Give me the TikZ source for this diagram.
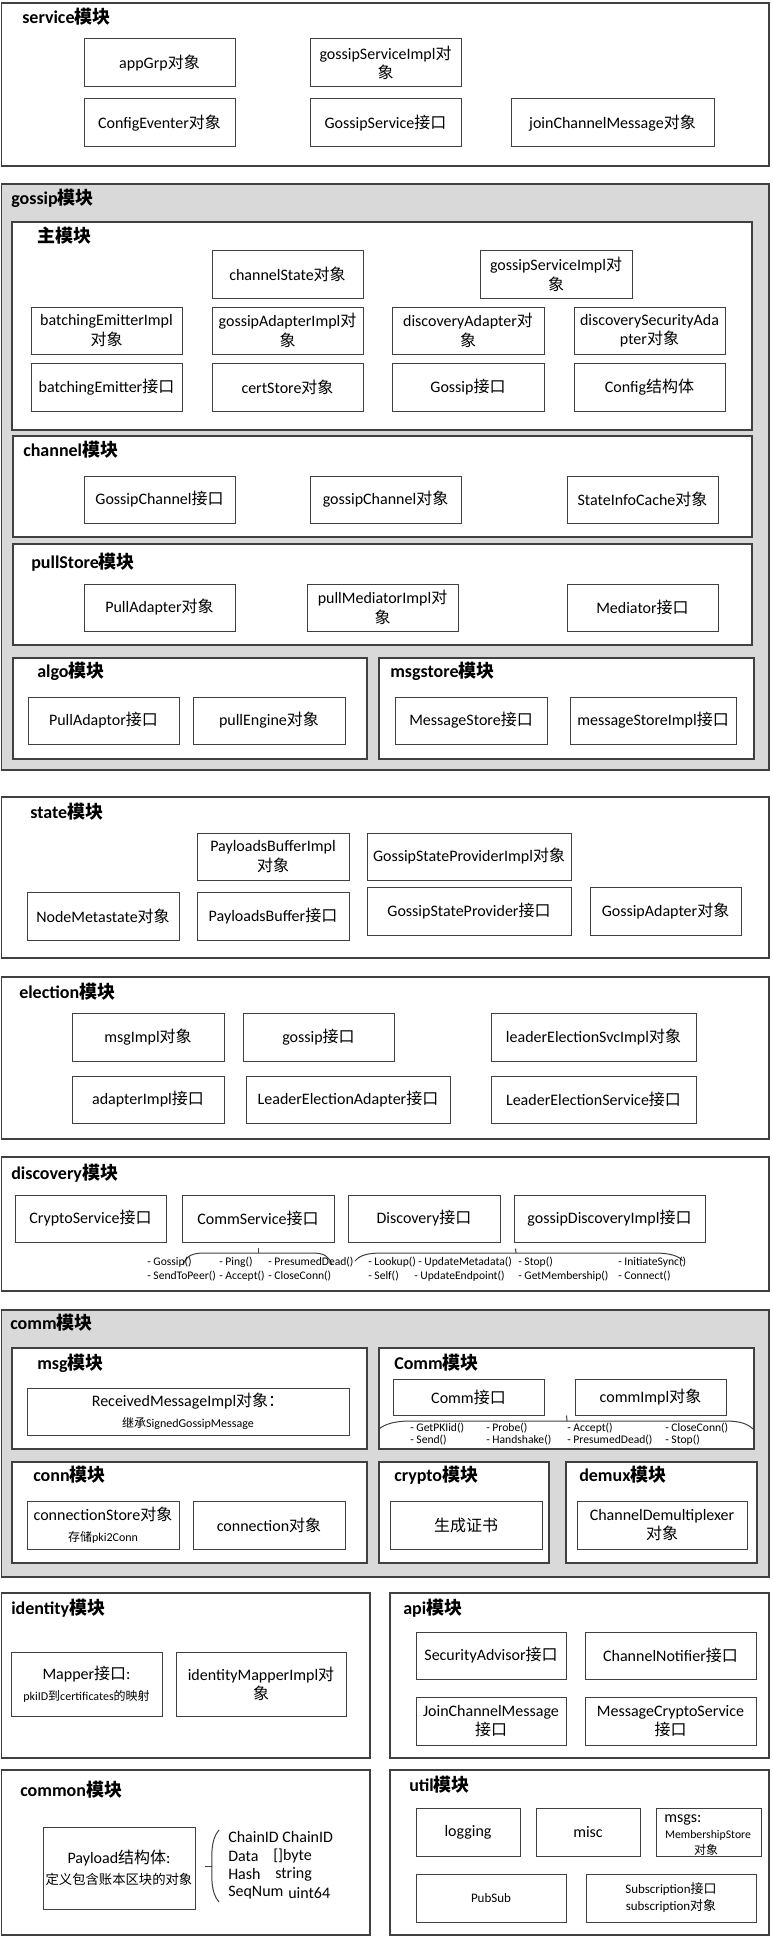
\documentclass[tikz,border=0pt]{standalone}
\usepackage{fontspec}
\setmainfont{Carlito}
\newfontfamily\cjk{Noto Sans CJK SC}
\newcommand\zh[1]{{\cjk #1}}
\definecolor{modgray}{HTML}{D9D9D9}
\definecolor{edge}{HTML}{404040}

\tikzset{
  frame/.style={draw=edge, line width=0.9pt, fill=white, inner sep=0pt},
  grayframe/.style={frame, fill=modgray},
  objbox/.style={draw=edge, line width=0.75pt, fill=white, inner sep=0pt, align=center,
    font=\fontsize{12}{14.5}\selectfont},
  ttl/.style={anchor=west, inner sep=0pt, font=\fontsize{13.5}{16}\selectfont\bfseries},
  mth/.style={anchor=west, inner sep=0pt, font=\fontsize{8.7}{10.5}\selectfont},
  field/.style={anchor=west, inner sep=0pt, font=\fontsize{12}{14}\selectfont},
  lnk/.style={draw=edge, line width=0.75pt},
}

% module frame: name, x1, y1, x2, y2, style
\newcommand\frm[6]{%
  \pgfmathsetmacro\frmw{(#4-#2)*0.75}%
  \pgfmathsetmacro\frmh{(#5-#3)*0.75}%
  \node[#6, minimum width=\frmw pt, minimum height=\frmh pt] (#1) at ({(#2+#4)/2},{(#3+#5)/2}) {};}
% class box: [extra style] name, x1, y1, x2, y2, text
\newcommand\obj[7][]{%
  \pgfmathsetmacro\objw{(#5-#3)*0.75}%
  \pgfmathsetmacro\objh{(#6-#4)*0.75}%
  \node[objbox, minimum width=\objw pt, minimum height=\objh pt, #1] (#2) at ({(#3+#5)/2},{(#4+#6)/2}) {#7};}
% module title: name, x, y, text
\newcommand\ttl[4]{\node[ttl] (#1) at (#2,#3) {#4};}

\begin{document}
\begin{tikzpicture}[x=0.75pt, y=-0.75pt]
\useasboundingbox (0,0) rectangle (772,1937);
\fill[white] (0,0) rectangle (772,1937);

% ---------------- service ----------------
\frm{fService}{1.5}{3}{769}{166}{frame}
\ttl{tService}{22}{17}{service\zh{模块}}
\obj{appGrp}{84}{39}{235}{87}{appGrp\zh{对象}}
\obj{gsImplS}{310}{39}{461}{87}{gossipServiceImpl\zh{对}\\\zh{象}}
\obj{cfgEv}{84}{99}{235}{147}{ConfigEventer\zh{对象}}
\obj{gsSvc}{310}{99}{461}{147}{GossipService\zh{接口}}
\obj{joinMsg}{511}{99}{714}{147}{joinChannelMessage\zh{对象}}

% ---------------- gossip ----------------
\frm{fGossip}{1.5}{184}{769}{770}{grayframe}
\ttl{tGossip}{11}{198}{gossip\zh{模块}}

\frm{fMain}{12}{222}{752}{430}{frame}
\ttl{tMain}{37}{236}{\zh{主模块}}
\obj{chState}{212}{251}{363}{298}{channelState\zh{对象}}
\obj{gsImplG}{480}{251}{632}{298}{gossipServiceImpl\zh{对}\\\zh{象}}
\obj{beImpl}{31}{307}{182}{354}{batchingEmitterImpl\\\zh{对象}}
\obj{gaImpl}{212}{307}{363}{354}{gossipAdapterImpl\zh{对}\\\zh{象}}
\obj{discAd}{392}{307}{544}{354}{discoveryAdapter\zh{对}\\\zh{象}}
\obj{discSecAd}{574}{307}{725}{354}{discoverySecurityAda\\pter\zh{对象}}
\obj{be}{31}{363}{182}{411}{batchingEmitter\zh{接口}}
\obj{certStore}{212}{363}{363}{411}{certStore\zh{对象}}
\obj{gossipIf}{392}{363}{544}{411}{Gossip\zh{接口}}
\obj{config}{574}{363}{725}{411}{Config\zh{结构体}}

\frm{fChannel}{13}{436}{752}{537}{frame}
\ttl{tChannel}{23}{450}{channel\zh{模块}}
\obj{gcIf}{84}{476}{235}{523}{GossipChannel\zh{接口}}
\obj{gcObj}{310}{476}{461}{523}{gossipChannel\zh{对象}}
\obj{sic}{567}{476}{718}{523}{StateInfoCache\zh{对象}}

\frm{fPull}{13}{544}{752}{645}{frame}
\ttl{tPull}{31}{562}{pullStore\zh{模块}}
\obj{pullAd}{84}{584}{235}{631}{PullAdapter\zh{对象}}
\obj{pullMed}{307}{584}{458}{631}{pullMediatorImpl\zh{对}\\\zh{象}}
\obj{mediator}{567}{584}{718}{631}{Mediator\zh{接口}}

\frm{fAlgo}{13}{658}{367}{759}{frame}
\ttl{tAlgo}{37}{671}{algo\zh{模块}}
\obj{pullAdIf}{28}{697}{179}{744}{PullAdaptor\zh{接口}}
\obj{pullEng}{193}{697}{345}{744}{pullEngine\zh{对象}}

\frm{fMsgStore}{379}{658}{754}{759}{frame}
\ttl{tMsgStore}{390}{671}{msgstore\zh{模块}}
\obj{msgStore}{395}{697}{547}{744}{MessageStore\zh{接口}}
\obj{msgStoreImpl}{570}{697}{736}{744}{messageStoreImpl\zh{接口}}

% ---------------- state ----------------
\frm{fState}{1.5}{797}{769}{958}{frame}
\ttl{tState}{30}{812}{state\zh{模块}}
\obj{pbImpl}{197}{833}{349}{880}{PayloadsBufferImpl\\\zh{对象}}
\obj{gspImpl}{367}{833}{571}{880}{GossipStateProviderImpl\zh{对象}}
\obj{nodeMeta}{27}{892}{179}{940}{NodeMetastate\zh{对象}}
\obj{pb}{197}{892}{349}{940}{PayloadsBuffer\zh{接口}}
\obj{gsp}{367}{887}{571}{935}{GossipStateProvider\zh{接口}}
\obj{gAd}{590}{887}{741}{935}{GossipAdapter\zh{对象}}

% ---------------- election ----------------
\frm{fElection}{1.5}{977}{769}{1139}{frame}
\ttl{tElection}{19}{992}{election\zh{模块}}
\obj{msgImpl}{72}{1013}{224}{1061}{msgImpl\zh{对象}}
\obj{gossipE}{243}{1013}{394}{1061}{gossip\zh{接口}}
\obj{lesImpl}{491}{1013}{696}{1061}{leaderElectionSvcImpl\zh{对象}}
\obj{adImpl}{72}{1076}{224}{1123}{adapterImpl\zh{接口}}
\obj{leAd}{246}{1076}{450}{1123}{LeaderElectionAdapter\zh{接口}}
\obj{leSvc}{491}{1076}{696}{1123}{LeaderElectionService\zh{接口}}

% ---------------- discovery ----------------
\frm{fDisc}{1.5}{1157}{769}{1291}{frame}
\ttl{tDisc}{11}{1173}{discovery\zh{模块}}
\obj{cryptoSvc}{15}{1195}{166}{1242}{CryptoService\zh{接口}}
\obj{commSvc}{182}{1195}{334}{1242}{CommService\zh{接口}}
\obj{discIf}{348}{1195}{500}{1242}{Discovery\zh{接口}}
\obj{gdImpl}{514}{1195}{705}{1242}{gossipDiscoveryImpl\zh{接口}}

% method braces under CommService and gossipDiscoveryImpl
\coordinate (brA) at (258,1253);
\draw[lnk] ([yshift=-3.75pt]commSvc.south) -- (brA);
\draw[lnk] (brA) -- (204,1253) .. controls (192,1253) and (186,1256) .. (183,1265);
\draw[lnk] (brA) -- (312,1253) .. controls (324,1253) and (329,1256) .. (332,1265);
\coordinate (brB) at (516,1253);
\draw[lnk] ([xshift=1.5pt,yshift=-4.5pt]gdImpl.south west) -- (brB);
\draw[lnk] (brB) -- (382,1253) .. controls (368,1253) and (360,1255) .. (355,1261);
\draw[lnk] (brB) -- (655,1253) .. controls (670,1253) and (679,1256) .. (683,1261);

\node[mth] (dm1) at (147,1262) {- Gossip()};
\node[mth] (dm2) at (219,1262) {- Ping()};
\node[mth] (dm3) at (268,1262) {- PresumedDead()};
\node[mth] (dm4) at (147,1276) {- SendToPeer()};
\node[mth] (dm5) at (219,1276) {- Accept()};
\node[mth] (dm6) at (268,1276) {- CloseConn()};
\node[mth] (dm7) at (368,1262) {- Lookup()};
\node[mth] (dm8) at (418,1262) {- UpdateMetadata()};
\node[mth] (dm9) at (518,1262) {- Stop()};
\node[mth] (dm10) at (618,1262) {- InitiateSync()};
\node[mth] (dm11) at (368,1276) {- Self()};
\node[mth] (dm12) at (414,1276) {- UpdateEndpoint()};
\node[mth] (dm13) at (518,1276) {- GetMembership()};
\node[mth] (dm14) at (618,1276) {- Connect()};

% ---------------- comm ----------------
\frm{fComm}{1.5}{1310}{769}{1577}{grayframe}
\ttl{tComm}{10}{1323}{comm\zh{模块}}

\frm{fMsg}{12}{1348}{367}{1449}{frame}
\ttl{tMsg}{37}{1363}{msg\zh{模块}}
\obj{recvMsg}{27}{1388}{349}{1435}{ReceivedMessageImpl\zh{对象：}\\[1pt]{\fontsize{9}{11}\selectfont\zh{继承}SignedGossipMessage}}

\frm{fCommSub}{379}{1348}{754}{1449}{frame}
\ttl{tCommSub}{394}{1363}{Comm\zh{模块}}
\obj{commIf}{393}{1379}{544}{1415}{Comm\zh{接口}}
\obj{commImpl}{575}{1379}{726}{1415}{commImpl\zh{对象}}
\coordinate (brC) at (567,1421);
\draw[lnk] ([xshift=-6pt]commImpl.south west) -- (brC);
\draw[lnk] (brC) -- (410,1421) .. controls (395,1421) and (385,1424) .. (379,1429);
\draw[lnk] (brC) -- (726,1421) .. controls (740,1421) and (748,1424) .. (753,1429);
\node[mth] (cm1) at (410,1428) {- GetPKIid()};
\node[mth] (cm2) at (486,1428) {- Probe()};
\node[mth] (cm3) at (567,1428) {- Accept()};
\node[mth] (cm4) at (665,1428) {- CloseConn()};
\node[mth] (cm5) at (410,1440) {- Send()};
\node[mth] (cm6) at (486,1440) {- Handshake()};
\node[mth] (cm7) at (567,1440) {- PresumedDead()};
\node[mth] (cm8) at (665,1440) {- Stop()};

\frm{fConn}{12}{1462}{367}{1563}{frame}
\ttl{tConn}{33}{1475}{conn\zh{模块}}
\obj{connStore}{27}{1501}{179}{1549}{connectionStore\zh{对象}\\[1pt]{\fontsize{9}{11}\selectfont\zh{存储}pki2Conn}}
\obj{connObj}{193}{1501}{345}{1549}{connection\zh{对象}}

\frm{fCrypto}{379}{1462}{549}{1563}{frame}
\ttl{tCrypto}{394}{1475}{crypto\zh{模块}}
\obj{genCert}{390}{1501}{542}{1549}{\zh{生成证书}}

\frm{fDemux}{566}{1462}{757}{1563}{frame}
\ttl{tDemux}{579}{1475}{demux\zh{模块}}
\obj{demuxObj}{577}{1501}{747}{1549}{ChannelDemultiplexer\\\zh{对象}}

% ---------------- identity / api ----------------
\frm{fIdentity}{1.5}{1593}{370}{1758}{frame}
\ttl{tIdentity}{11}{1608}{identity\zh{模块}}
\obj{mapper}{11}{1652}{162}{1716}{Mapper\zh{接口}:\\[1.5pt]{\fontsize{9}{11}\selectfont pkiID\zh{到}certificates\zh{的映射}}}
\obj{idMapper}{176}{1652}{346}{1716}{identityMapperImpl\zh{对}\\\zh{象}}

\frm{fApi}{390}{1593}{769}{1758}{frame}
\ttl{tApi}{403}{1608}{api\zh{模块}}
\obj{secAdv}{416}{1632}{566}{1679}{SecurityAdvisor\zh{接口}}
\obj{chNot}{585}{1632}{756}{1679}{ChannelNotifier\zh{接口}}
\obj{joinIf}{416}{1697}{566}{1745}{JoinChannelMessage\\\zh{接口}}
\obj{mcs}{585}{1697}{756}{1745}{MessageCryptoService\\\zh{接口}}

% ---------------- common / util ----------------
\frm{fCommon}{1.5}{1770}{370}{1935}{frame}
\ttl{tCommon}{20}{1790}{common\zh{模块}}
\obj{payload}{43}{1827}{195}{1909}{Payload\zh{结构体}:\\[1.5pt]{\fontsize{10}{12}\selectfont\zh{定义包含账本区块的对象}}}
\coordinate (brD) at (212,1866);
\draw[lnk] ([xshift=6.75pt,yshift=1.5pt]payload.east) -- (brD);
\draw[lnk] (219,1830) .. controls (210,1840) and (212,1858) .. (brD)
                      .. controls (212,1874) and (210,1892) .. (219,1902);
\node[field] (f1) at (228,1837) {ChainID ChainID};
\node[field] (f2) at (228,1856) {Data};
\node[field] (f2t) at (273,1856) {[]byte};
\node[field] (f3) at (228,1874) {Hash};
\node[field] (f3t) at (275,1874) {string};
\node[field] (f4) at (228,1893) {SeqNum};
\node[field] (f4t) at (288,1893) {uint64};

\frm{fUtil}{390}{1770}{769}{1935}{frame}
\ttl{tUtil}{409}{1785}{util\zh{模块}}
\obj{logging}{416}{1808}{520}{1856}{logging}
\obj{misc}{536}{1808}{640}{1856}{misc}
\obj{msgs}{656}{1808}{761}{1856}{}
\node[field] (msgsA) at (664,1820) {msgs:};
\node[inner sep=0pt, font=\fontsize{8.8}{10}\selectfont] (msgsB) at (708,1835) {MembershipStore};
\node[inner sep=0pt, font=\fontsize{9}{10}\selectfont] (msgsC) at (706,1850) {\zh{对象}};
\obj[font=\fontsize{9.75}{12}\selectfont]{pubsub}{416}{1874}{566}{1922}{PubSub}
\obj[font=\fontsize{9.75}{12.75}\selectfont]{subs}{586}{1874}{756}{1922}{Subscription\zh{接口}\\subscription\zh{对象}}

\end{tikzpicture}
\end{document}
